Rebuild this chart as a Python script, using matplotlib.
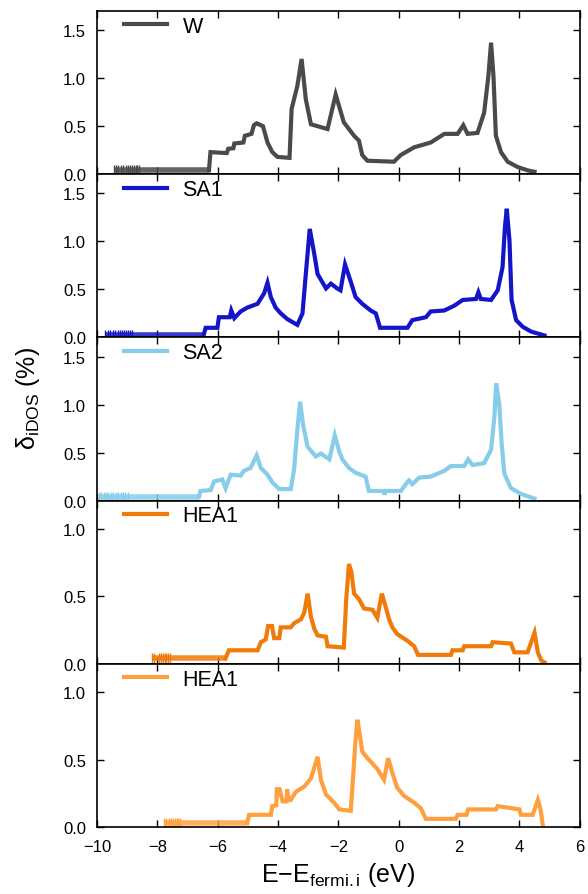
import matplotlib
matplotlib.use("Agg")
import matplotlib.pyplot as plt
import numpy as np

plt.rcParams['font.family'] = ['Liberation Sans', 'DejaVu Sans']
plt.rcParams['mathtext.fontset'] = 'custom'
plt.rcParams['mathtext.rm'] = 'Liberation Sans'
plt.rcParams['mathtext.it'] = 'Liberation Sans:italic'

# ---- data ----
labels = ['W', 'SA1', 'SA2', 'HEA1', 'HEA1']
colors = ['#4a4a4a', '#1414c8', '#87cdea', '#f07a0a', '#ffa040']
ymax = [1.70, 1.70, 1.70, 1.21, 1.21]

# flat near-zero tails on the left (dash positions) and their level
w_tail_x = [-9.45, -9.37, -9.29, -9.21, -9.13, -9.05, -8.97, -8.90, -8.84, -8.78, -8.72, -8.66, -8.60, -6.29]
sa1_tail_x = [-9.72, -9.64, -9.56, -9.48, -9.40, -9.32, -9.24, -9.17, -9.10, -9.03, -8.96, -8.90, -8.84, -6.46]
sa2_tail_x = [-9.94, -9.86, -9.78, -9.70, -9.62, -9.54, -9.46, -9.38, -9.30, -9.22, -9.14, -9.06, -8.98, -6.62]
hea1_tail_x = [-8.17, -8.10, -7.95, -7.88, -7.82, -7.76, -7.70, -7.64, -7.58, -5.74]
hea1b_tail_x = [-7.79, -7.71, -7.63, -7.55, -7.48, -7.42, -7.36, -7.30, -7.24, -5.02]
tail_level = [0.04, 0.03, 0.04, 0.04, 0.03]

w_x = [-6.24, -5.70, -5.65, -5.48, -5.45, -5.15, -5.10, -4.88, -4.80, -4.71, -4.50, -4.35,
       -4.19, -4.02, -3.62, -3.55, -3.36, -3.22, -3.08, -2.91, -2.36, -2.09, -1.82, -1.48,
       -1.32, -1.21, -1.04, -0.16, 0.07, 0.51, 1.06, 1.51, 1.95, 2.14, 2.28, 2.61, 2.83,
       2.97, 3.06, 3.14, 3.22, 3.39, 3.61, 3.94, 4.27, 4.50]
w_y = [0.23, 0.22, 0.265, 0.27, 0.32, 0.33, 0.40, 0.42, 0.51, 0.53, 0.50, 0.33,
       0.23, 0.18, 0.17, 0.68, 0.92, 1.20, 0.78, 0.52, 0.47, 0.83, 0.54, 0.40,
       0.35, 0.20, 0.14, 0.13, 0.20, 0.28, 0.33, 0.42, 0.42, 0.51, 0.42, 0.43, 0.64,
       1.02, 1.37, 1.02, 0.40, 0.23, 0.13, 0.075, 0.04, 0.025]

sa1_x = [-6.40, -6.01, -5.96, -5.60, -5.55, -5.45, -5.24, -5.02, -4.68, -4.46, -4.35, -4.24,
         -4.08, -3.91, -3.69, -3.36, -3.19, -3.08, -2.95, -2.80, -2.69, -2.41, -2.25, -2.04,
         -1.93, -1.78, -1.59, -1.43, -1.21, -0.93, -0.76, -0.62, 0.29, 0.45, 0.90, 1.06, 1.51,
         1.84, 2.12, 2.56, 2.64, 2.72, 3.06, 3.28, 3.44, 3.52, 3.58, 3.67, 3.74, 3.89, 4.11,
         4.39, 4.83]
sa1_y = [0.10, 0.10, 0.21, 0.21, 0.28, 0.20, 0.27, 0.31, 0.35, 0.46, 0.57, 0.42,
         0.31, 0.25, 0.19, 0.13, 0.25, 0.66, 1.13, 0.87, 0.66, 0.51, 0.56, 0.51,
         0.49, 0.76, 0.58, 0.42, 0.35, 0.28, 0.25, 0.10, 0.10, 0.18, 0.21, 0.27, 0.28,
         0.33, 0.39, 0.40, 0.47, 0.40, 0.39, 0.49, 0.73, 1.15, 1.34, 1.01, 0.39, 0.18, 0.11,
         0.06, 0.02]

sa2_x = [-6.57, -6.23, -6.12, -5.85, -5.74, -5.57, -5.24, -5.13, -4.91, -4.71, -4.57, -4.35,
         -4.19, -3.96, -3.58, -3.47, -3.36, -3.27, -3.16, -3.02, -2.75, -2.58, -2.30, -2.12,
         -1.97, -1.87, -1.65, -1.43, -1.10, -0.99, -0.49, -0.47, -0.45, 0.07, 0.23, 0.34, 0.45,
         0.68, 1.06, 1.51, 1.73, 2.17, 2.30, 2.45, 2.83, 3.06, 3.17, 3.23, 3.33, 3.41, 3.50,
         3.72, 4.05, 4.50]
sa2_y = [0.10, 0.11, 0.20, 0.22, 0.13, 0.27, 0.26, 0.31, 0.34, 0.47, 0.34, 0.27,
         0.19, 0.12, 0.12, 0.32, 0.74, 1.03, 0.77, 0.56, 0.46, 0.49, 0.43, 0.68,
         0.51, 0.43, 0.34, 0.29, 0.25, 0.10, 0.10, 0.06, 0.10, 0.10, 0.17, 0.21, 0.17,
         0.24, 0.25, 0.31, 0.36, 0.36, 0.43, 0.37, 0.39, 0.53, 0.87, 1.22, 1.01, 0.60, 0.28,
         0.13, 0.07, 0.02]

hea1_x = [-5.63, -4.68, -4.57, -4.41, -4.33, -4.20, -4.13, -3.96, -3.91, -3.58, -3.47, -3.24,
          -3.13, -3.02, -2.91, -2.80, -2.69, -2.41, -2.36, -1.82, -1.74, -1.65, -1.57, -1.48,
          -1.32, -1.15, -0.87, -0.71, -0.56, -0.43, -0.32, -0.21, -0.05, 0.29, 0.51, 0.64,
          1.73, 1.78, 2.12, 2.17, 3.06, 3.11, 3.72, 3.83, 4.27, 4.39, 4.50, 4.61, 4.72, 4.83]
hea1_y = [0.10, 0.10, 0.16, 0.18, 0.28, 0.28, 0.19, 0.19, 0.27, 0.27, 0.30, 0.33,
          0.38, 0.52, 0.35, 0.26, 0.21, 0.20, 0.13, 0.12, 0.48, 0.74, 0.68, 0.52,
          0.48, 0.41, 0.40, 0.34, 0.52, 0.42, 0.33, 0.27, 0.22, 0.17, 0.13, 0.066,
          0.066, 0.10, 0.10, 0.13, 0.13, 0.16, 0.15, 0.085, 0.085, 0.16, 0.23, 0.085, 0.025, 0.01]

hea1b_x = [-4.96, -4.24, -4.19, -4.06, -4.04, -3.95, -3.85, -3.72, -3.70, -3.65, -3.58, -3.41,
           -3.13, -2.91, -2.69, -2.58, -2.41, -2.14, -1.97, -1.59, -1.51, -1.43, -1.37, -1.29,
           -1.21, -1.04, -0.87, -0.71, -0.49, -0.35, -0.21, -0.05, 0.18, 0.51, 0.73, 0.90,
           1.89, 1.95, 2.25, 2.30, 3.22, 3.28, 4.00, 4.05, 4.44, 4.61, 4.70, 4.77]
hea1b_y = [0.09, 0.09, 0.155, 0.16, 0.28, 0.28, 0.19, 0.19, 0.28, 0.20, 0.20, 0.26,
           0.30, 0.36, 0.52, 0.35, 0.24, 0.18, 0.13, 0.12, 0.38, 0.65, 0.795, 0.68,
           0.56, 0.51, 0.47, 0.43, 0.35, 0.51, 0.40, 0.29, 0.23, 0.18, 0.14, 0.06,
           0.06, 0.09, 0.09, 0.13, 0.13, 0.155, 0.13, 0.09, 0.09, 0.20, 0.13, 0.02]

tails = [w_tail_x, sa1_tail_x, sa2_tail_x, hea1_tail_x, hea1b_tail_x]
curves_x = [w_x, sa1_x, sa2_x, hea1_x, hea1b_x]
curves_y = [w_y, sa1_y, sa2_y, hea1_y, hea1b_y]

# ---- figure ----
fig, axes = plt.subplots(5, 1, sharex=True, figsize=(5.88, 8.95), dpi=100)
fig.subplots_adjust(left=0.165, right=0.986, top=0.9866, bottom=0.0749, hspace=0)

for i, ax in enumerate(axes):
    tx = np.array(tails[i])
    ty = np.full(len(tx), tail_level[i])
    # thick flat tail, then the curve itself
    ax.plot(tx, ty, color=colors[i], lw=4.0, alpha=0.85, solid_capstyle='butt')
    ax.plot(tx[:-1], ty[:-1], ls='none', marker='|', ms=7, mew=1.0, color=colors[i])
    x = np.concatenate([tx[-1:], curves_x[i]])
    y = np.concatenate([ty[-1:], curves_y[i]])
    ax.plot(x, y, color=colors[i], lw=3.0, solid_joinstyle='miter', label=labels[i])

    ax.set_xlim(-10, 6)
    ax.set_ylim(0, ymax[i])
    if ymax[i] > 1.5:
        ax.set_yticks([0.0, 0.5, 1.0, 1.5])
    else:
        ax.set_yticks([0.0, 0.5, 1.0])
    ax.set_yticklabels(['%.1f' % t for t in ax.get_yticks()])
    ax.set_xticks(np.arange(-10, 7, 2))
    ax.tick_params(direction='in', top=True, right=True, length=5, width=1.0,
                   labelsize=12)
    ax.tick_params(axis='y', pad=8)
    ax.tick_params(axis='x', pad=9)
    for s in ax.spines.values():
        s.set_linewidth(1.2)
    ax.legend(loc='upper left', bbox_to_anchor=(0.05, 0.99), frameon=False,
              fontsize=15.5, handlelength=2.0, handletextpad=0.7, borderpad=0.15,
              borderaxespad=0)

axes[-1].set_xlabel('E\u2212E$_{\\mathrm{fermi.i}}$ (eV)', fontsize=18, labelpad=4)
fig.text(28 / 588, 1 - 398 / 895, '\u03b4$_{\\mathrm{iDOS}}$ (%)', rotation=90,
         fontsize=18, ha='center', va='center')

plt.savefig('out.png', dpi=100)
